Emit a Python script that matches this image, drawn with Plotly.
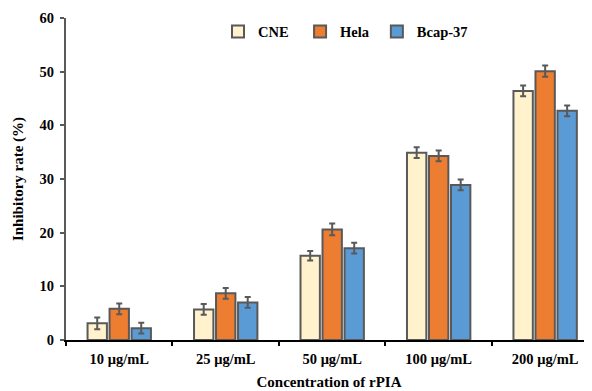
import plotly.graph_objects as go

categories = ["10 μg/mL", "25 μg/mL", "50 μg/mL", "100 μg/mL", "200 μg/mL"]
cne = [3.1, 5.7, 15.7, 34.9, 46.4]
hela = [5.8, 8.7, 20.6, 34.3, 50.1]
bcap = [2.2, 7.0, 17.1, 28.9, 42.7]
cne_err = [1.1, 1.0, 0.9, 1.0, 1.0]
hela_err = [1.0, 1.0, 1.1, 1.0, 1.05]
bcap_err = [1.0, 1.0, 1.0, 1.0, 1.0]
series_names = ["CNE", "Hela", "Bcap-37"]
colors = ["#FFF2CC", "#ED7D31", "#5B9BD5"]

FONT = "'Liberation Serif', 'Times New Roman', serif"
edge = "#595959"
fs = 14.5

bold = dict(family=FONT, size=fs, color="black", weight="bold")
bold_title = dict(family=FONT, size=15, color="black", weight="bold")

fig = go.Figure()
legend_ids = ["legend", "legend2", "legend3"]
legend_x = [0.289, 0.445, 0.591]
for name, vals, errs, col, lid in zip(series_names, [cne, hela, bcap], [cne_err, hela_err, bcap_err], colors, legend_ids):
    fig.add_trace(go.Bar(
        name=name, x=categories, y=vals, legend=lid,
        marker=dict(color=col, line=dict(color=edge, width=2)),
        error_y=dict(type="data", array=errs, visible=True, color=edge, thickness=2, width=3),
    ))

leg_common = dict(orientation="h", y=0.958, xanchor="left", yanchor="middle",
                  font=bold, bgcolor="rgba(0,0,0,0)", borderwidth=0, itemsizing="constant")

fig.update_layout(
    width=584, height=383,
    margin=dict(l=58, r=0, t=10, b=51),
    paper_bgcolor="white", plot_bgcolor="white",
    barmode="group", bargap=0.38, bargroupgap=0.12,
    font=dict(family=FONT, size=fs, color="black"),
    showlegend=True,
    legend=dict(x=legend_x[0], **leg_common),
    legend2=dict(x=legend_x[1], **leg_common),
    legend3=dict(x=legend_x[2], **leg_common),
    xaxis=dict(
        range=[-0.5, 4.44], tickson="boundaries", ticks="outside", ticklen=4,
        tickwidth=2, tickcolor="black", showline=True, linecolor="black", linewidth=2,
        showgrid=False, tickfont=bold, automargin=False, ticklabelstandoff=5,
        title=dict(text="Concentration of rPIA", standoff=10, font=bold_title),
    ),
    yaxis=dict(
        range=[0, 60], dtick=10, ticks="outside", ticklen=4, tickwidth=1.5, tickcolor=edge,
        showline=True, linecolor=edge, linewidth=2, showgrid=False, zeroline=False,
        tickfont=bold, automargin=False, ticklabelstandoff=3,
        title=dict(text="Inhibitory rate (%)", standoff=12, font=bold_title),
    ),
)

fig.write_html("out.html")
